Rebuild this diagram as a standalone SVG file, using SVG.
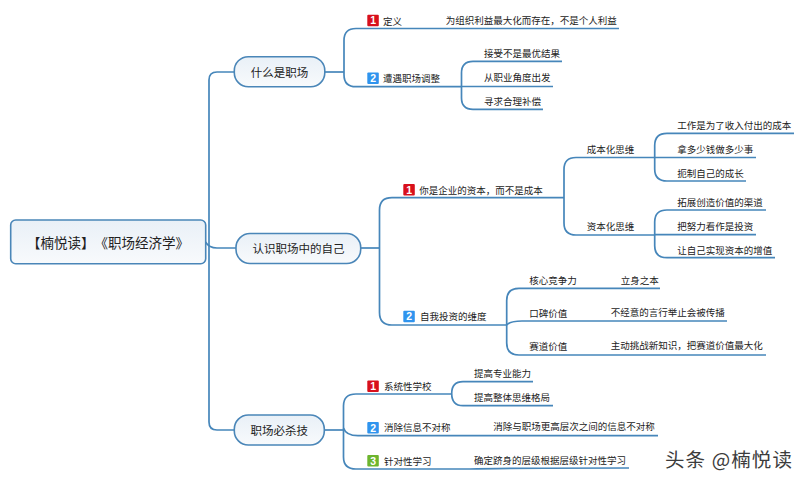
<svg xmlns="http://www.w3.org/2000/svg" width="805" height="484" viewBox="0 0 805 484">
<style>
text{font-family:"Noto Sans CJK SC","Noto Sans",sans-serif;fill:#222}
.t{font-size:9.5px}
.c{font-size:11.5px;text-anchor:middle}
.r{font-size:13.5px;text-anchor:middle;text-spacing-trim:space-all;font-feature-settings:"palt" 0,"halt" 0,"chws" 0}
.n{font-family:"Liberation Sans",Arial,sans-serif;font-size:10.5px;font-weight:bold;fill:#fff;text-anchor:middle}
.box{fill:url(#g);stroke:#4a86b8;stroke-width:1.6}
.w{font-size:19.5px;fill:#3c3c3c}
#links path{fill:none;stroke:#4686ba;stroke-width:1.7}
</style>
<defs>
<linearGradient id="g" x1="0" y1="0" x2="0" y2="1"><stop offset="0" stop-color="#e9f0f7"/><stop offset="1" stop-color="#f8fafc"/></linearGradient>
<g id="i1"><rect width="11.5" height="11.5" rx="1" fill="#d8101c"/><text class="n" x="5.75" y="9.6">1</text></g>
<g id="i2"><rect width="11.5" height="11.5" rx="1" fill="#2f94ee"/><text class="n" x="5.75" y="9.6">2</text></g>
<g id="i3"><rect width="11.5" height="11.5" rx="1" fill="#6db52e"/><text class="n" x="5.75" y="9.6">3</text></g>
</defs>
<rect width="805" height="484" fill="#fff"/>
<g id="links">
<path d="M234 72H217Q209 72 209 80V422Q209 430 217 430H234"/>
<path d="M205.500 242Q209 248 217 248H236"/>
<path d="M325 72H344"/>
<path d="M619 28.500H356Q344 28.500 344 40.500V74.700Q344 86.700 356 86.700H462"/>
<path d="M562 61.300H473Q461.500 61.300 461.500 73V98Q461.500 109.300 473 109.300H543"/>
<path d="M461.500 86.500H553"/>
<path d="M361 248H379.500"/>
<path d="M564 197.700H392Q379.500 197.700 379.500 210V312.500Q379.500 325 392 325H507"/>
<path d="M655 157.500H576Q564 157.500 564 169.500V223Q564 235 576 235H655"/>
<path d="M794 133.300H667Q654.700 133.300 654.700 145.500V169Q654.700 181 667 181H746"/>
<path d="M654.700 157.500H756"/>
<path d="M766 210H667Q654.700 210 654.700 222V245.700Q654.700 257.700 667 257.700H775"/>
<path d="M654.700 234.700H756"/>
<path d="M660 288.300H519Q506.700 288.300 506.700 300.500V343Q506.700 355 519 355H766"/>
<path d="M506.700 325Q510 321 522 321H727"/>
<path d="M325 430H343.500"/>
<path d="M452 394H356Q343.500 394 343.500 406V457Q343.500 469 356 469H470Q500 468 629 468"/>
<path d="M343.500 428Q346 435.700 358 435.700H658"/>
<path d="M533 381.700H463Q451.700 381.700 451.700 393.500Q451.700 405.700 463 405.700H553"/>
</g>
<g id="root"><rect class="box" x="10.700" y="220" width="195" height="43.700" rx="5"/><text class="r" x="108" y="248">【楠悦读】《职场经济学》</text></g>
<g id="n1"><rect class="box" x="234.300" y="56.700" width="90.500" height="30" rx="14"/><text class="c" x="279.500" y="77">什么是职场</text></g>
<g id="n2"><rect class="box" x="236" y="233.500" width="124.700" height="30" rx="14"/><text class="c" x="298.400" y="253">认识职场中的自己</text></g>
<g id="n3"><rect class="box" x="234.300" y="415" width="90" height="30" rx="14"/><text class="c" x="279.300" y="435">职场必杀技</text></g>
<g id="n1-1"><use href="#i1" x="367.300" y="14.700"/><text class="t" x="383" y="24.500">定义</text></g>
<g id="n1-1-1"><text class="t" x="445.700" y="24">为组织利益最大化而存在，不是个人利益</text></g>
<g id="n1-2"><use href="#i2" x="367.300" y="72.500"/><text class="t" x="383" y="82">遭遇职场调整</text></g>
<g id="n1-2-1"><text class="t" x="484" y="56.800">接受不是最优结果</text></g>
<g id="n1-2-2"><text class="t" x="484" y="81.200">从职业角度出发</text></g>
<g id="n1-2-3"><text class="t" x="484" y="105.200">寻求合理补偿</text></g>
<g id="n2-1"><use href="#i1" x="403.300" y="184"/><text class="t" x="419.300" y="193.800">你是企业的资本，而不是成本</text></g>
<g id="n2-1-1"><text class="t" x="586.700" y="153.200">成本化思维</text></g>
<g id="n2-1-2"><text class="t" x="586.700" y="230.200">资本化思维</text></g>
<g id="n2-1-1-1"><text class="t" x="677.300" y="129.200">工作是为了收入付出的成本</text></g>
<g id="n2-1-1-2"><text class="t" x="677.300" y="152.800">拿多少钱做多少事</text></g>
<g id="n2-1-1-3"><text class="t" x="677.300" y="176.800">扼制自己的成长</text></g>
<g id="n2-1-2-1"><text class="t" x="677.300" y="205.800">拓展创造价值的渠道</text></g>
<g id="n2-1-2-2"><text class="t" x="677.300" y="230.200">把努力看作是投资</text></g>
<g id="n2-1-2-3"><text class="t" x="677.300" y="253.800">让自己实现资本的增值</text></g>
<g id="n2-2"><use href="#i2" x="403.300" y="310.700"/><text class="t" x="420" y="320.200">自我投资的维度</text></g>
<g id="n2-2-1"><text class="t" x="529.300" y="283.500">核心竞争力</text></g>
<g id="n2-2-1-1"><text class="t" x="620.700" y="283.500">立身之本</text></g>
<g id="n2-2-2"><text class="t" x="529.300" y="316.800">口碑价值</text></g>
<g id="n2-2-2-1"><text class="t" x="610.700" y="316.200">不经意的言行举止会被传播</text></g>
<g id="n2-2-3"><text class="t" x="529.300" y="350.200">赛道价值</text></g>
<g id="n2-2-3-1"><text class="t" x="610.700" y="349.200">主动挑战新知识，把赛道价值最大化</text></g>
<g id="n3-1"><use href="#i1" x="367.300" y="380.500"/><text class="t" x="384" y="390.200">系统性学校</text></g>
<g id="n3-1-1"><text class="t" x="474" y="376.800">提高专业能力</text></g>
<g id="n3-1-2"><text class="t" x="474" y="401.200">提高整体思维格局</text></g>
<g id="n3-2"><use href="#i2" x="367.300" y="422"/><text class="t" x="384" y="431.200">消除信息不对称</text></g>
<g id="n3-2-1"><text class="t" x="493.300" y="430.200">消除与职场更高层次之间的信息不对称</text></g>
<g id="n3-3"><use href="#i3" x="367.300" y="455"/><text class="t" x="384" y="465.200">针对性学习</text></g>
<g id="n3-3-1"><text class="t" x="474" y="464.200">确定跻身的层级根据层级针对性学习</text></g>
<text class="w" x="665" y="467" textLength="127">头条 @楠悦读</text>
</svg>
